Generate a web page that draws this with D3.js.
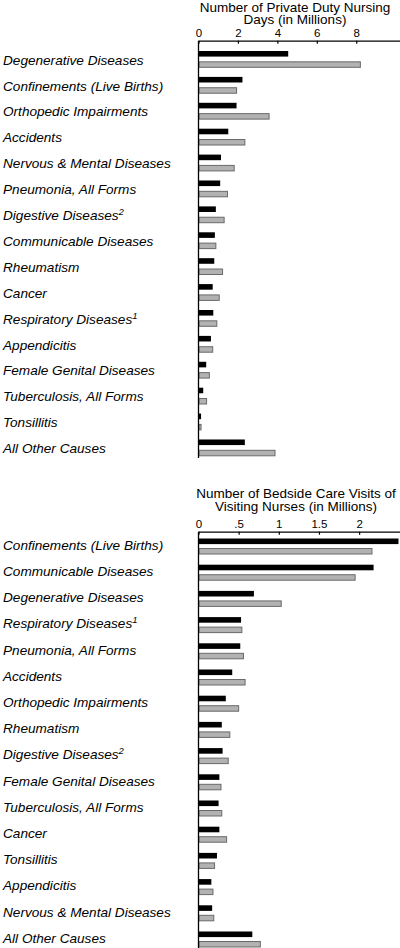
<!DOCTYPE html>
<html>
<head>
<meta charset="utf-8">
<script src="https://cdn.jsdelivr.net/npm/d3@7"></script>
<style>
  html, body { margin: 0; padding: 0; background: #fff; }
  svg { display: block; font-family: "Liberation Sans", Arial, sans-serif; }
</style>
</head>
<body>
<svg id="chart" width="400" height="948"></svg>
<script>
// ---------- Data ----------
const topCategories = [
  "Degenerative Diseases", "Confinements (Live Births)", "Orthopedic Impairments",
  "Accidents", "Nervous & Mental Diseases", "Pneumonia, All Forms",
  "Digestive Diseases", "Communicable Diseases", "Rheumatism", "Cancer",
  "Respiratory Diseases", "Appendicitis", "Female Genital Diseases",
  "Tuberculosis, All Forms", "Tonsillitis", "All Other Causes"
];
const topBlack = [4.55, 2.23, 1.93, 1.51, 1.14, 1.10, 0.88, 0.83, 0.80, 0.72, 0.75, 0.63, 0.39, 0.24, 0.13, 2.35];
const topGray  = [8.21, 1.93, 3.58, 2.35, 1.81, 1.47, 1.30, 0.88, 1.22, 1.05, 0.93, 0.72, 0.55, 0.41, 0.13, 3.88];
const topTicks = [0, 2, 4, 6, 8];
const topTickLabels = ["0", "2", "4", "6", "8"];
const topTitle = ["Number of Private Duty Nursing", "Days (in Millions)"];

const bottomCategories = [
  "Confinements (Live Births)", "Communicable Diseases", "Degenerative Diseases",
  "Respiratory Diseases", "Pneumonia, All Forms", "Accidents",
  "Orthopedic Impairments", "Rheumatism", "Digestive Diseases",
  "Female Genital Diseases", "Tuberculosis, All Forms", "Cancer",
  "Tonsillitis", "Appendicitis", "Nervous & Mental Diseases", "All Other Causes"
];
const bottomBlack = [2.49, 2.18, 0.69, 0.53, 0.52, 0.42, 0.34, 0.29, 0.30, 0.26, 0.25, 0.26, 0.23, 0.16, 0.17, 0.67];
const bottomGray  = [2.16, 1.95, 1.03, 0.54, 0.56, 0.58, 0.50, 0.39, 0.37, 0.28, 0.29, 0.35, 0.20, 0.18, 0.19, 0.77];
const bottomTicks = [0, 0.5, 1, 1.5, 2];
const bottomTickLabels = ["0", ".5", "1", "1.5", "2"];
const bottomTitle = ["Number of Bedside Care Visits of", "Visiting Nurses (in Millions)"];

const footnotes = { "Digestive Diseases": "2", "Respiratory Diseases": "1" };
const seriesKeys = ["black", "gray"];

// ---------- Drawing ----------
const svg = d3.select("#chart");

function panel(cfg) {
  const g = svg.append("g");
  const x = d3.scaleLinear().domain([0, cfg.xMax]).range([198.5, 400]);
  const y = d3.scaleBand().domain(cfg.categories).range(cfg.yRange)
    .paddingInner(cfg.padInner).paddingOuter(0);
  const ys = d3.scaleBand().domain(seriesKeys).range([0, y.bandwidth()])
    .paddingInner(cfg.subPad).paddingOuter(0);

  // title
  const title = g.append("text")
    .attr("text-anchor", "middle")
    .attr("font-size", 13.5)
    .attr("fill", "#000");
  cfg.title.forEach((line, i) => {
    title.append("tspan").attr("x", cfg.titleX).attr("y", cfg.titleY[i]).text(line);
  });

  // axis
  const axis = d3.axisTop(x)
    .tickValues(cfg.ticks)
    .tickFormat((d, i) => cfg.tickLabels[i])
    .tickSizeInner(-3)
    .tickSizeOuter(0)
    .tickPadding(4);
  const ax = g.append("g")
    .attr("transform", `translate(0,${cfg.axisY})`)
    .call(axis);
  ax.select(".domain").attr("stroke", "#000").attr("stroke-width", 1.3);
  ax.selectAll(".tick line").attr("stroke", "#000").attr("stroke-width", 1.2);
  ax.selectAll(".tick text")
    .attr("font-family", "'Liberation Sans', Arial, sans-serif")
    .attr("font-size", 11.5).attr("fill", "#000");

  // bars
  const rows = cfg.categories.map((c, i) => ({ cat: c, black: cfg.black[i], gray: cfg.gray[i] }));
  const grp = g.append("g").selectAll("g").data(rows).join("g")
    .attr("transform", d => `translate(0,${y(d.cat)})`);
  grp.append("rect")
    .attr("x", x(0))
    .attr("y", ys("black"))
    .attr("width", d => x(d.black) - x(0))
    .attr("height", ys.bandwidth() - 0.4)
    .attr("fill", "#000");
  grp.append("rect")
    .attr("x", x(0) + 0.5)
    .attr("y", ys("gray") + 0.5)
    .attr("width", d => Math.max(0, x(d.gray) - x(0) - 0.5))
    .attr("height", ys.bandwidth() - 0.5)
    .attr("fill", "#b2b2b2")
    .attr("stroke", "#6a6a6a")
    .attr("stroke-width", 1);

  // vertical axis line
  g.append("line")
    .attr("x1", x(0)).attr("x2", x(0))
    .attr("y1", cfg.axisY).attr("y2", cfg.vEnd)
    .attr("stroke", "#000").attr("stroke-width", 1.3);

  // category labels
  const lab = g.append("g").selectAll("text").data(cfg.categories).join("text")
    .attr("x", 3)
    .attr("y", d => y(d) + y.bandwidth() / 2 + cfg.labelDy)
    .attr("font-size", 13.6)
    .attr("font-style", "italic")
    .attr("fill", "#000");
  lab.append("tspan").text(d => d);
  lab.filter(d => footnotes[d]).append("tspan")
    .attr("font-size", 9.5)
    .attr("dy", -5)
    .text(d => footnotes[d]);
}

panel({
  categories: topCategories, black: topBlack, gray: topGray,
  ticks: topTicks, tickLabels: topTickLabels, title: topTitle,
  xMax: 10.22, yRange: [51, 455.8], padInner: 0.37, subPad: 0.42,
  titleX: 295, titleY: [12.3, 24], axisY: 40.7, vEnd: 458, labelDy: 5.5
});

panel({
  categories: bottomCategories, black: bottomBlack, gray: bottomGray,
  ticks: bottomTicks, tickLabels: bottomTickLabels, title: bottomTitle,
  xMax: 2.509, yRange: [538.5, 947], padInner: 0.408, subPad: 0.37,
  titleX: 296, titleY: [497.8, 510.5], axisY: 531.7, vEnd: 948, labelDy: 3.6
});
</script>
</body>
</html>
